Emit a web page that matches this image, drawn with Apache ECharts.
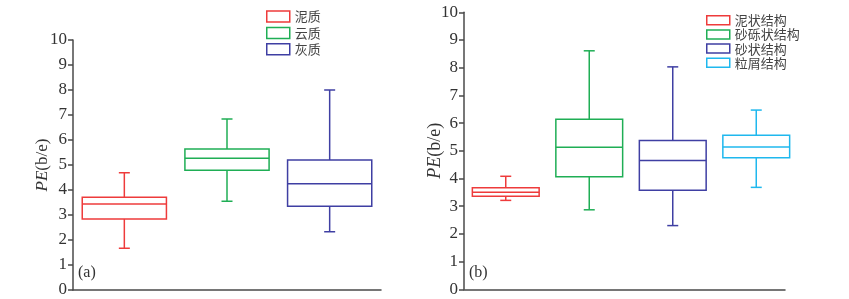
<!DOCTYPE html>
<html>
<head>
<meta charset="utf-8">
<script src="https://cdn.jsdelivr.net/npm/echarts@6/dist/echarts.min.js"></script>
<style>html,body{margin:0;padding:0;background:#fff}#c{width:849px;height:299px}</style>
</head>
<body>
<div id="c"></div>
<script>
// Panel (a): lithology
var catsA = ['泥质', '云质', '灰质'];
var colorsA = ['#ee3b3b', '#1fae55', '#3f3fa3'];
// [min, Q1, median, Q3, max]
var statsA = [
  [1.67, 2.84, 3.44, 3.71, 4.69],
  [3.55, 4.79, 5.27, 5.64, 6.84],
  [2.33, 3.35, 4.25, 5.20, 8.00]
];

// Panel (b): texture
var catsB = ['泥状结构', '砂砾状结构', '砂状结构', '粒屑结构'];
var colorsB = ['#ee3b3b', '#1fae55', '#3f3fa3', '#1fb8ee'];
var statsB = [
  [3.21, 3.36, 3.50, 3.67, 4.08],
  [2.87, 4.06, 5.13, 6.14, 8.61],
  [2.30, 3.58, 4.65, 5.37, 8.03],
  [3.68, 4.75, 5.14, 5.56, 6.47]
];

var yTicks = [0, 1, 2, 3, 4, 5, 6, 7, 8, 9, 10];
var panelLabels = ['(a)', '(b)'];

function makeRender(boxRatio, capHalf) {
  return function (params, api) {
    var x = api.value(0);
    var pMin = api.coord([x, api.value(1)]);
    var pQ1 = api.coord([x, api.value(2)]);
    var pMed = api.coord([x, api.value(3)]);
    var pQ3 = api.coord([x, api.value(4)]);
    var pMax = api.coord([x, api.value(5)]);
    var band = api.size([1, 0])[0];
    var hw = band * boxRatio / 2;
    var cx = pMed[0];
    var st = api.style({fill: null, stroke: api.visual('color'), lineWidth: 1.5});
    function line(x1, y1, x2, y2) {
      return {type: 'line', shape: {x1: x1, y1: y1, x2: x2, y2: y2}, style: st};
    }
    return {
      type: 'group',
      children: [
        {type: 'rect', shape: {x: cx - hw, y: pQ3[1], width: hw * 2, height: pQ1[1] - pQ3[1]}, style: st},
        line(cx - hw, pMed[1], cx + hw, pMed[1]),
        line(cx, pQ3[1], cx, pMax[1]),
        line(cx, pQ1[1], cx, pMin[1]),
        line(cx - capHalf, pMax[1], cx + capHalf, pMax[1]),
        line(cx - capHalf, pMin[1], cx + capHalf, pMin[1])
      ]
    };
  };
}

var series = [];
catsA.forEach(function (name, i) {
  series.push({
    type: 'custom', name: name, xAxisIndex: 0, yAxisIndex: 0,
    itemStyle: {color: colorsA[i]},
    renderItem: makeRender(0.82, 5.5),
    encode: {x: 0, y: [1, 2, 3, 4, 5]},
    data: [[i].concat(statsA[i])]
  });
});
catsB.forEach(function (name, i) {
  series.push({
    type: 'custom', name: name, xAxisIndex: 1, yAxisIndex: 1,
    itemStyle: {color: colorsB[i]},
    renderItem: makeRender(0.80, 5.5),
    encode: {x: 0, y: [1, 2, 3, 4, 5]},
    data: [[i].concat(statsB[i])]
  });
});

var axisLineStyle = {color: '#4a4a4a', width: 1.5};
var labelFont = {fontFamily: 'Liberation Serif', fontSize: 17, color: '#333'};

function yAxis(gridIndex, nameSize, gap) {
  return {
    gridIndex: gridIndex, type: 'value', min: yTicks[0], max: yTicks[yTicks.length - 1], interval: 1,
    splitLine: {show: false},
    axisLine: {show: true, lineStyle: axisLineStyle},
    axisTick: {show: true, length: 5, lineStyle: axisLineStyle},
    axisLabel: Object.assign({margin: 6}, labelFont),
    name: '{i|PE}{n|(b/e)}',
    nameLocation: 'middle', nameRotate: 90, nameGap: gap, nameMoveOverlap: false,
    nameTextStyle: {
      rich: {
        i: {fontFamily: 'Liberation Serif', fontStyle: 'italic', fontSize: nameSize, color: '#333'},
        n: {fontFamily: 'Liberation Serif', fontSize: nameSize, color: '#333'}
      }
    }
  };
}

var hiddenX = function (gridIndex, cats) {
  return {gridIndex: gridIndex, type: 'category', data: cats,
    axisLine: {show: false}, axisTick: {show: false}, axisLabel: {show: false}, splitLine: {show: false}};
};

function legendData(cats, colors) {
  return cats.map(function (c, i) {
    return {name: c, icon: 'rect', itemStyle: {color: '#fff', borderColor: colors[i], borderWidth: 1.5}};
  });
}

var option = {
  animation: false,
  backgroundColor: '#fff',
  grid: [
    {left: 73, top: 40, width: 308, height: 250},
    {left: 464, top: 12.3, width: 334, height: 277},
    {left: 464, top: 12.3, width: 321, height: 277}
  ],
  xAxis: [
    {gridIndex: 0, type: 'category', data: catsA,
      axisLine: {show: true, lineStyle: axisLineStyle}, axisTick: {show: false}, axisLabel: {show: false}, splitLine: {show: false}},
    hiddenX(1, catsB),
    {gridIndex: 2, type: 'value', min: 0, max: 1,
      axisLine: {show: true, lineStyle: axisLineStyle}, axisTick: {show: false}, axisLabel: {show: false}, splitLine: {show: false}}
  ],
  yAxis: [
    yAxis(0, 17, 22),
    yAxis(1, 18, 20),
    {gridIndex: 2, type: 'value', show: false}
  ],
  legend: [
    {orient: 'vertical', left: 266, top: 10, itemWidth: 23, itemHeight: 11, itemGap: 3.4, padding: 0,
      selectedMode: false,
      textStyle: {fontFamily: 'Noto Sans CJK SC', fontSize: 13, lineHeight: 12, color: '#444'},
      data: legendData(catsA, colorsA)},
    {orient: 'vertical', left: 706, top: 13.7, itemWidth: 23, itemHeight: 9, itemGap: 1.2, padding: 0,
      selectedMode: false,
      textStyle: {fontFamily: 'Noto Sans CJK SC', fontSize: 13, lineHeight: 10, color: '#444'},
      data: legendData(catsB, colorsB)}
  ],
  title: [
    {text: panelLabels[0], left: 78, top: 265, textStyle: {fontFamily: 'Liberation Serif', fontSize: 16, fontWeight: 'normal', color: '#333'}, padding: 0},
    {text: panelLabels[1], left: 469, top: 265, textStyle: {fontFamily: 'Liberation Serif', fontSize: 16, fontWeight: 'normal', color: '#333'}, padding: 0}
  ],
  series: series
};

var chart = echarts.init(document.getElementById('c'), null, {renderer: 'canvas'});
chart.setOption(option);
</script>
</body>
</html>
